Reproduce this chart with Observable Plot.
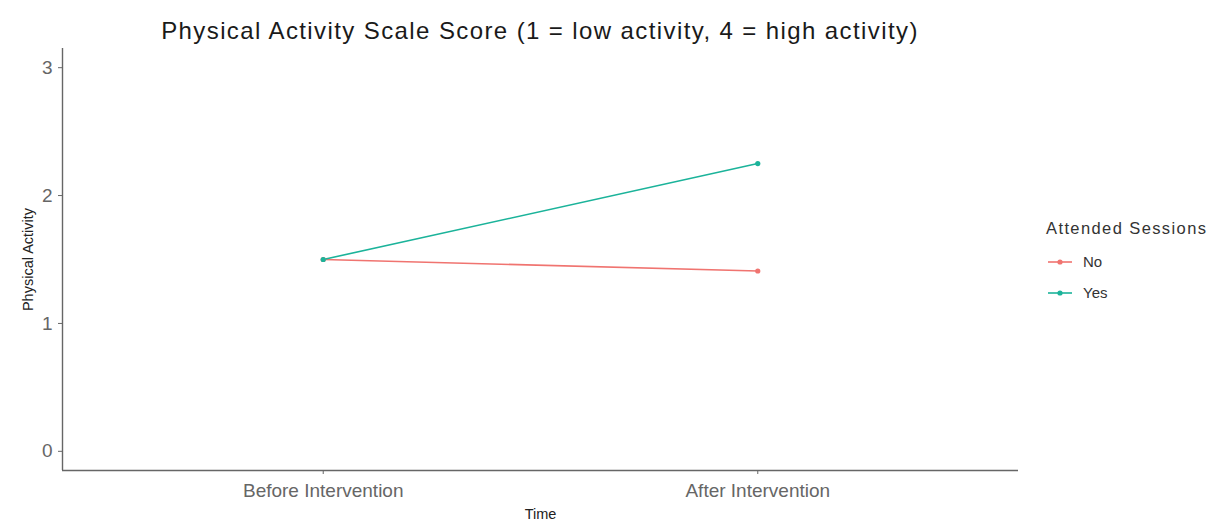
<!DOCTYPE html>
<html>
<head>
<meta charset="utf-8">
<script src="https://cdn.jsdelivr.net/npm/d3@7"></script>
<script src="https://cdn.jsdelivr.net/npm/@observablehq/plot@0.6"></script>
<style>
  html, body { margin: 0; padding: 0; background: #fff; }
  #wrap { position: relative; width: 1212px; height: 524px; font-family: "Liberation Sans", Arial, sans-serif; }
  #title { position: absolute; left: 62px; width: 956px; top: 17px; text-align: center; font-size: 24px; letter-spacing: 1.4px; color: #1a1a1a; line-height: 28px; }
  #legend { position: absolute; left: 1046px; top: 218px; color: #333; }
  #legend .lt { font-size: 16.5px; letter-spacing: 1.4px; margin-bottom: 8px; line-height: 20px; }
  #legend .row { display: flex; align-items: center; height: 31px; font-size: 15px; }
  #legend svg { margin-right: 9px; }
</style>
</head>
<body>
<div id="wrap">
  <div id="title"></div>
  <div id="chart"></div>
  <div id="legend"></div>
</div>
<script>
const titleText = "Physical Activity Scale Score (1 = low activity, 4 = high activity)";
const times = ["Before Intervention", "After Intervention"];
const groups = ["No", "Yes"];
const noValues = [1.50, 1.41];
const yesValues = [1.50, 2.25];
const colors = ["#F07470", "#1BB39A"];
const yTicks = [0, 1, 2, 3];
const xLabel = "Time";
const yLabel = "Physical Activity";
const legendTitle = "Attended Sessions";

const data = [];
[noValues, yesValues].forEach((vals, g) => {
  vals.forEach((v, i) => data.push({group: groups[g], pos: i + 1, time: times[i], value: v}));
});

document.getElementById("title").textContent = titleText;

const plot = Plot.plot({
  width: 1212,
  height: 524,
  marginLeft: 62,
  marginRight: 194,
  marginTop: 48,
  marginBottom: 54,
  style: {fontFamily: "'Liberation Sans', Arial, sans-serif", background: "transparent", color: "#555"},
  x: {type: "linear", domain: [0.4, 2.6], ticks: [1, 2], tickFormat: d => times[d - 1], label: null},
  y: {domain: [-0.15, 3.15], ticks: yTicks, tickFormat: d3.format("d"), label: null},
  color: {domain: groups, range: colors},
  marks: [
    Plot.axisY({ticks: yTicks, tickFormat: d3.format("d"), tickSize: 4, tickPadding: 6, fontSize: 19, stroke: "#666", fill: "#666", label: null}),
    Plot.axisX({ticks: [1, 2], tickFormat: d => times[d - 1], tickSize: 4, tickPadding: 9, fontSize: 19, stroke: "#666", fill: "#666", label: null, style: {letterSpacing: "0.5px"}}),
    Plot.ruleX([0.4], {stroke: "#666", strokeWidth: 1.4}),
    Plot.ruleY([-0.15], {stroke: "#666", strokeWidth: 1.4}),
    Plot.line(data, {x: "pos", y: "value", z: "group", stroke: "group", strokeWidth: 1.6}),
    Plot.dot(data, {x: "pos", y: "value", fill: "group", r: 2.6}),
    Plot.text([xLabel], {frameAnchor: "bottom", dy: 48, fontSize: 14.5, fill: "#222"}),
    Plot.text([yLabel], {frameAnchor: "left", textAnchor: "middle", dx: -34, rotate: -90, fontSize: 14.5, fill: "#222"})
  ]
});
document.getElementById("chart").appendChild(plot);

const legend = d3.select("#legend");
legend.append("div").attr("class", "lt").text(legendTitle);
groups.forEach((g, i) => {
  const row = legend.append("div").attr("class", "row");
  const s = row.append("svg").attr("width", 28).attr("height", 10);
  s.append("line").attr("x1", 2).attr("x2", 26).attr("y1", 5).attr("y2", 5).attr("stroke", colors[i]).attr("stroke-width", 1.6);
  s.append("circle").attr("cx", 14).attr("cy", 5).attr("r", 2.6).attr("fill", colors[i]);
  row.append("span").text(g);
});
</script>
</body>
</html>
